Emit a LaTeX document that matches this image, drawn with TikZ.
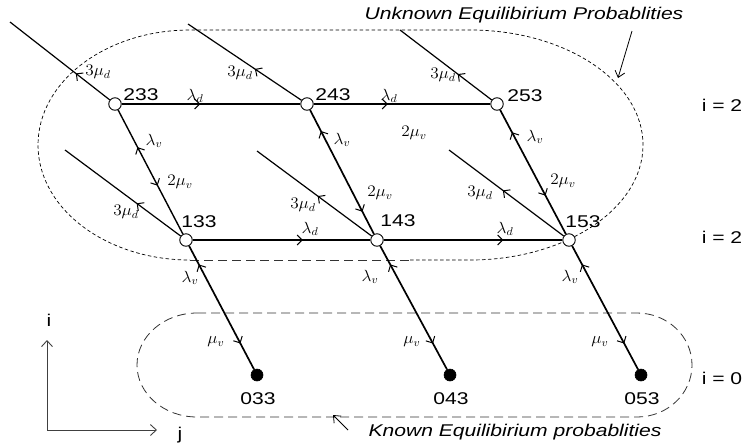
\documentclass[tikz,border=0pt]{standalone}
\usepackage{fontspec}
\setmainfont{Liberation Sans}
\newfontfamily\labfont[FakeStretch=1.24]{Liberation Sans}
\usepackage{graphicx}
\usetikzlibrary{arrows.meta,decorations.markings}
\newcommand{\gk}[1]{\scalebox{1.2}[1.12]{$#1$}}
\tikzset{
  st/.style={circle,draw,fill=white,inner sep=0pt,minimum size=12.5pt,line width=0.9pt},
  kn/.style={circle,draw,fill=black,inner sep=0pt,minimum size=12pt,line width=0.6pt},
  edge/.style={line width=1.2pt},
  bold/.style={line width=1.7pt},
  fw/.style={postaction={decorate,decoration={markings,mark=at position #1 with {\arrow{Straight Barb[length=5pt,width=10pt,line width=1pt]}}}}},
  bw/.style={postaction={decorate,decoration={markings,mark=at position #1 with {\arrowreversed{Straight Barb[length=5pt,width=10pt,line width=1pt]}}}}},
  lab/.style={font=\labfont\fontsize{17}{20}\selectfont,inner sep=0pt},
  ital/.style={font=\labfont\itshape\fontsize{17}{20}\selectfont,inner sep=0pt},
  rate/.style={font=\fontsize{14.4}{16}\selectfont,inner sep=0pt},
  finedash/.style={line width=0.7pt,dash pattern=on 3.5pt off 2.5pt},
  longdash/.style={line width=0.8pt,dash pattern=on 9pt off 5pt,black!80},
  ann/.style={line width=0.8pt,-{Straight Barb[length=6pt,width=10pt,line width=0.8pt]}},
  axis/.style={line width=0.9pt,black!75,-{Straight Barb[length=6pt,width=11pt,line width=0.9pt]}}
}
\begin{document}
\begin{tikzpicture}[x=1pt,y=-1pt]
\useasboundingbox (0,0) rectangle (743,445);

% dashed regions
\draw[finedash] (410,260) -- (470,260)
  .. controls (565.5,260) and (643,208.5) .. (643,145)
  .. controls (643,81.5) and (565.5,30) .. (470,30)
  -- (190,30)
  .. controls (106,30) and (38,81.5) .. (38,145)
  .. controls (38,208.5) and (106,260) .. (190,260);
\draw[longdash] (190,260) -- (410,260);

\draw[longdash] (197,313) -- (637,313)
  .. controls (667.4,313) and (692,336.3) .. (692,365)
  .. controls (692,393.7) and (667.4,417) .. (637,417)
  -- (197,417)
  .. controls (164,417) and (137,393.7) .. (137,365)
  .. controls (137,336.3) and (164,313) .. (197,313);

% free ends
\coordinate (e233) at (10,22);
\coordinate (e243) at (188,24);
\coordinate (e253) at (400,30);
\coordinate (e133) at (65,150);
\coordinate (e143) at (257,151);
\coordinate (e153) at (449,150);

% states
\node[st] (n233) at (115,104) {};
\node[st] (n243) at (307,104) {};
\node[st] (n253) at (497,104) {};
\node[st] (n133) at (186,240) {};
\node[st] (n143) at (377,240) {};
\node[st] (n153) at (569,240) {};
\node[kn] (n033) at (257,375) {};
\node[kn] (n043) at (450,375) {};
\node[kn] (n053) at (641,375) {};

% outgoing departure lines
\draw[edge,fw=0.34] (n233) -- (e233);
\draw[edge,fw=0.41] (n243) -- (e243);
\draw[edge,fw=0.37] (n253) -- (e253);
\draw[edge,fw=0.38] (n133) -- (e133);
\draw[edge,fw=0.47] (n143) -- (e143);
\draw[edge,fw=0.53] (n153) -- (e153);

% horizontal
\draw[edge,fw=0.44] (n233) -- (n243);
\draw[edge,fw=0.42] (n243) -- (n253);
\draw[edge,fw=0.62] (n133) -- (n143);
\draw[edge,fw=0.67] (n143) -- (n153);

% vertical-ish
\draw[edge,line width=1.4pt,bw=0.30,fw=0.61] (n233) -- (n133);
\draw[bold,bw=0.17,fw=0.82] (n243) -- (n143);
\draw[bold,bw=0.18,fw=0.69] (n253) -- (n153);
\draw[bold,bw=0.15,fw=0.79] (n133) -- (n033);
\draw[bold,bw=0.15,fw=0.79] (n143) -- (n043);
\draw[bold,bw=0.15,fw=0.79] (n153) -- (n053);

% state labels
\node[lab] (t233) at (141,95) {233};
\node[lab] (t243) at (333,95) {243};
\node[lab] (t253) at (525,96) {253};
\node[lab] (t133) at (199,222) {133};
\node[lab] (t143) at (398,221) {143};
\node[lab] (t153) at (583,222) {153};
\node[lab] (t033) at (258,399) {033};
\node[lab] (t043) at (451,399) {043};
\node[lab] (t053) at (642,399) {053};

% rate labels
\node[rate] (r1) at (98,72) {\gk{3\mu_d}};
\node[rate] (r2) at (240,73) {\gk{3\mu_d}};
\node[rate] (r3) at (443,75) {\gk{3\mu_d}};
\node[rate] (r4) at (126,212) {\gk{3\mu_d}};
\node[rate] (r5) at (303,205) {\gk{3\mu_d}};
\node[rate] (r6) at (480,193) {\gk{3\mu_d}};

\node[rate] (l1) at (195,96) {\gk{\lambda_d}};
\node[rate] (l2) at (389,96) {\gk{\lambda_d}};
\node[rate] (l3) at (310,229) {\gk{\lambda_d}};
\node[rate] (l4) at (505,229) {\gk{\lambda_d}};

\node[rate] (v1) at (154,141) {\gk{\lambda_v}};
\node[rate] (v2) at (342,140) {\gk{\lambda_v}};
\node[rate] (v3) at (535,137) {\gk{\lambda_v}};

\node[rate] (m1) at (180,182) {\gk{2\mu_v}};
\node[rate] (m2) at (380,193) {\gk{2\mu_v}};
\node[rate] (m3) at (563,181) {\gk{2\mu_v}};
\node[rate] (m4) at (414,133) {\gk{2\mu_v}};

\node[rate] (w1) at (190,278) {\gk{\lambda_v}};
\node[rate] (w2) at (370,277) {\gk{\lambda_v}};
\node[rate] (w3) at (570,277) {\gk{\lambda_v}};

\node[rate] (u1) at (216,342) {\gk{\mu_v}};
\node[rate] (u2) at (412,342) {\gk{\mu_v}};
\node[rate] (u3) at (600,342) {\gk{\mu_v}};

% level labels
\node[lab] (i2a) at (722,105) {i = 2};
\node[lab] (i2b) at (722,237) {i = 2};
\node[lab] (i0) at (722,378) {i = 0};

% annotations
\node[ital] (unk) at (524,15) {Unknown Equilibirium Probablities};
\coordinate (ua) at (632,31);
\coordinate (ub) at (618,78);
\draw[ann] (ua) -- (ub);
\node[ital] (kno) at (515,432) {Known Equilibirium probablities};
\coordinate (ka) at (348,430);
\coordinate (kb) at (333,415);
\draw[ann] (ka) -- (kb);

% axes
\coordinate (o) at (47,430);
\coordinate (iy) at (47,340);
\coordinate (jx) at (157,430);
\draw[axis] (o) -- (iy);
\draw[axis] (o) -- (jx);
\node[lab] (ti) at (49,320) {i};
\node[lab] (tj) at (180,435) {j};
\end{tikzpicture}
\end{document}
